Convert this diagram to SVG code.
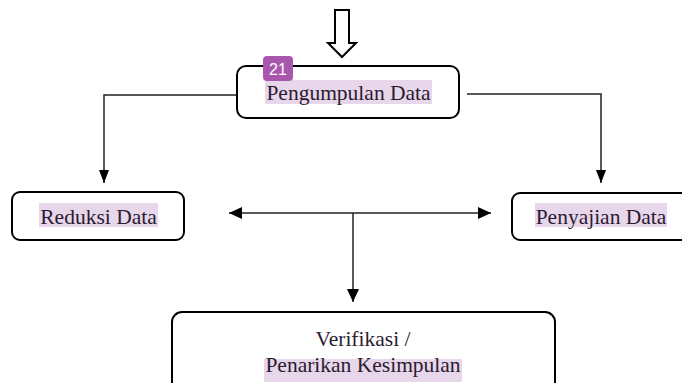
<svg xmlns="http://www.w3.org/2000/svg" width="682" height="383" viewBox="0 0 682 383">
<defs>
<style>
.box{fill:#ffffff;stroke:#000000;stroke-width:2}
.hl{fill:#e8d6ea}
.t{font-family:"Liberation Serif","Times New Roman",serif;font-size:21.5px;fill:#2a1c30;text-anchor:middle}
.c{fill:none;stroke:#222222;stroke-width:1.5}
.badge{fill:#a957ad}
.bt{font-family:"Liberation Sans",Arial,sans-serif;font-size:16px;fill:#ffffff;text-anchor:middle}
</style>
<marker id="ah" viewBox="0 0 13 10" markerUnits="userSpaceOnUse" markerWidth="13" markerHeight="10" refX="13" refY="5" orient="auto-start-reverse">
<path d="M0,0 L13,5 L0,10 z" fill="#000000"/>
</marker>
<marker id="ah2" viewBox="0 0 13 12" markerUnits="userSpaceOnUse" markerWidth="13" markerHeight="12" refX="13" refY="6" orient="auto-start-reverse">
<path d="M0,0 L13,6 L0,12 z" fill="#000000"/>
</marker>
</defs>
<g id="input-arrow">
<polygon points="335,10 349,10 349,43 356,43 342,57 328,43 335,43" fill="#ffffff" stroke="#000000" stroke-width="2" stroke-linejoin="miter"/>
</g>
<g id="connectors">
<polyline class="c" points="237,95 104,95 104,183" marker-end="url(#ah)"/>
<polyline class="c" points="467,94 601,94 601,183" marker-end="url(#ah)"/>
<line class="c" x1="229" y1="213" x2="491" y2="213" marker-start="url(#ah2)" marker-end="url(#ah2)"/>
<line class="c" x1="353" y1="213" x2="353" y2="302" marker-end="url(#ah2)"/>
</g>
<g id="pengumpulan">
<rect class="box" x="237" y="66" width="222" height="52" rx="9"/>
<rect class="hl" x="265" y="80" width="167" height="24"/>
<text class="t" x="348.5" y="100">Pengumpulan Data</text>
<rect class="badge" x="263" y="56" width="30" height="25" rx="4"/>
<text class="bt" x="278" y="75">21</text>
</g>
<g id="reduksi">
<rect class="box" x="12" y="192" width="172" height="48" rx="8"/>
<rect class="hl" x="39" y="203" width="119" height="24"/>
<text class="t" x="98.5" y="224">Reduksi Data</text>
</g>
<g id="penyajian">
<rect class="box" x="512" y="193" width="190" height="47" rx="8"/>
<rect class="hl" x="535" y="203" width="132" height="24"/>
<text class="t" x="601" y="224">Penyajian Data</text>
</g>
<g id="verifikasi">
<rect class="box" x="172" y="312" width="383" height="90" rx="10"/>
<text class="t" x="363" y="346">Verifikasi /</text>
<rect class="hl" x="264" y="359" width="198" height="23"/>
<text class="t" x="363" y="372">Penarikan Kesimpulan</text>
</g>
</svg>
